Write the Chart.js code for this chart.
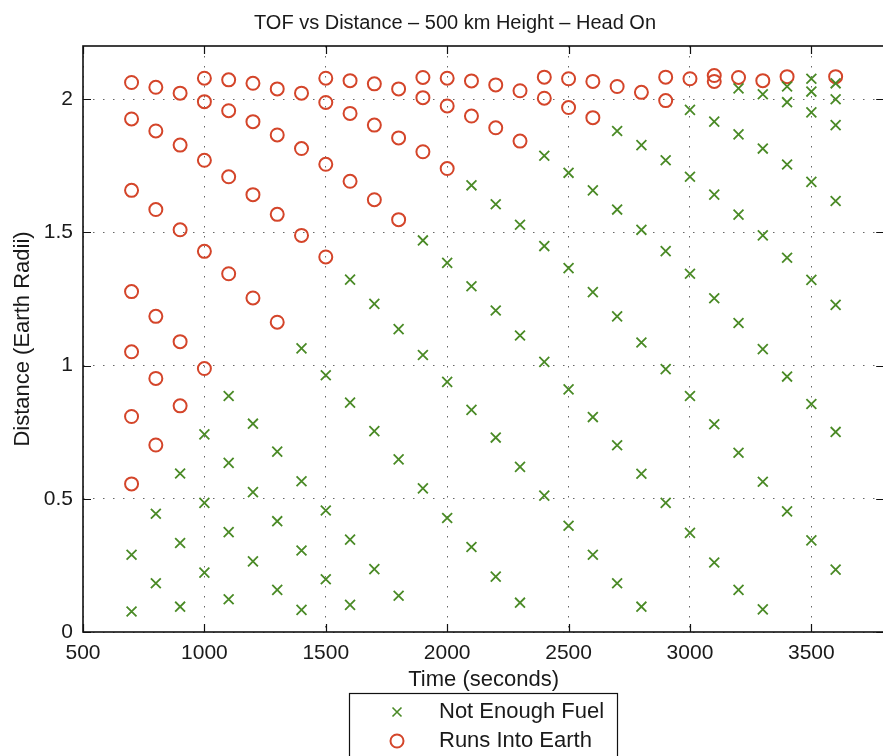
<!DOCTYPE html>
<html>
<head>
<meta charset="utf-8">
<title>TOF vs Distance</title>
<script src="https://cdn.jsdelivr.net/npm/chart.js@4.4.1/dist/chart.umd.min.js"></script>
<style>
  html, body { margin: 0; padding: 0; background: #fff; overflow: hidden; }
  #wrap { width: 893px; height: 756px; }
</style>
</head>
<body>
<div id="wrap"><canvas id="tofChart" width="893" height="756"></canvas></div>
<script>
const FONT = '"Liberation Sans", Arial, Helvetica, sans-serif'
const TEXT = "#1a1a1a"
const FUEL_GREEN = "#4a8a26"
const EARTH_RED = "#d4452a"

const chartTitle = "TOF vs Distance \u2013 500 km Height \u2013 Head On"
const xLabel = "Time (seconds)"
const yLabel = "Distance (Earth Radii)"
const seriesNames = ["Not Enough Fuel", "Runs Into Earth"]

const xTicks = [500, 1000, 1500, 2000, 2500, 3000, 3500]
const yTicks = [0, 0.5, 1, 1.5, 2]
const yTickLabels = ["0", "0.5", "1", "1.5", "2"]

// time of flight (s) for each column of results
const times = [700, 800, 900, 1000, 1100, 1200, 1300, 1400, 1500, 1600,
  1700, 1800, 1900, 2000, 2100, 2200, 2300, 2400, 2500, 2600,
  2700, 2800, 2900, 3000, 3100, 3200, 3300, 3400, 3500, 3600]

// distances (Earth radii) where the intercept ran out of fuel
const notEnoughFuel = [
  [0.290, 0.077],
  [0.444, 0.183],
  [0.595, 0.334, 0.095],
  [0.742, 0.485, 0.223],
  [0.886, 0.635, 0.375, 0.123],
  [0.782, 0.525, 0.265],
  [0.677, 0.416, 0.158],
  [1.065, 0.566, 0.306, 0.083],
  [0.964, 0.456, 0.198],
  [1.323, 0.861, 0.347, 0.102],
  [1.232, 0.754, 0.236],
  [1.137, 0.648, 0.136],
  [1.470, 1.040, 0.539],
  [1.386, 0.939, 0.428],
  [1.677, 1.298, 0.834, 0.319],
  [1.606, 1.207, 0.730, 0.208],
  [1.529, 1.113, 0.620, 0.110],
  [1.788, 1.449, 1.014, 0.512],
  [1.724, 1.366, 0.911, 0.399],
  [1.658, 1.276, 0.807, 0.290],
  [1.881, 1.586, 1.185, 0.701, 0.183],
  [1.828, 1.510, 1.087, 0.594, 0.095],
  [1.771, 1.430, 0.987, 0.485],
  [1.960, 1.709, 1.345, 0.886, 0.372],
  [1.916, 1.642, 1.253, 0.780, 0.261],
  [2.041, 1.868, 1.567, 1.160, 0.673, 0.158],
  [2.019, 1.815, 1.489, 1.062, 0.564, 0.085],
  [2.048, 1.989, 1.755, 1.405, 0.959, 0.453],
  [2.077, 2.029, 1.951, 1.690, 1.322, 0.856, 0.344],
  [2.060, 2.000, 1.903, 1.618, 1.228, 0.751, 0.234],
]

// distances (Earth radii) where the trajectory hit the Earth
const runsIntoEarth = [
  [2.063, 1.926, 1.658, 1.278, 1.052, 0.809, 0.556],
  [2.045, 1.881, 1.586, 1.185, 0.952, 0.702],
  [2.023, 1.828, 1.510, 1.090, 0.849],
  [2.079, 1.991, 1.771, 1.429, 0.989],
  [2.073, 1.957, 1.709, 1.345],
  [2.060, 1.916, 1.642, 1.254],
  [2.039, 1.866, 1.568, 1.163],
  [2.023, 1.815, 1.489],
  [2.079, 1.988, 1.756, 1.408],
  [2.070, 1.947, 1.692],
  [2.058, 1.903, 1.623],
  [2.039, 1.855, 1.548],
  [2.082, 2.006, 1.803],
  [2.079, 1.975, 1.740],
  [2.069, 1.937],
  [2.054, 1.893],
  [2.032, 1.843],
  [2.083, 2.004],
  [2.077, 1.969],
  [2.067, 1.931],
  [2.048],
  [2.026],
  [2.083, 1.995],
  [2.077],
  [2.089, 2.067],
  [2.082],
  [2.070],
  [2.085],
  [],
  [2.085],
]

const toPoints = (cols) => times.flatMap((t, i) => cols[i].map((d) => ({ x: t, y: d })))

// box round the axes with inward tick marks, matlab style
const axesFrame = {
  id: "axesFrame",
  afterDraw(chart) {
    const { ctx, chartArea: a, scales } = chart
    const len = 8
    ctx.save()
    ctx.strokeStyle = "#111"
    ctx.lineWidth = 1.2
    ctx.beginPath()
    xTicks.forEach((v) => {
      const x = Math.round(scales.x.getPixelForValue(v)) + 0.5
      ctx.moveTo(x, a.bottom)
      ctx.lineTo(x, a.bottom - len)
      ctx.moveTo(x, a.top)
      ctx.lineTo(x, a.top + len)
    })
    yTicks.forEach((v) => {
      const y = Math.round(scales.y.getPixelForValue(v)) + 0.5
      ctx.moveTo(a.left, y)
      ctx.lineTo(a.left + len, y)
      ctx.moveTo(a.right, y)
      ctx.lineTo(a.right - len, y)
    })
    ctx.stroke()
    ctx.lineWidth = 1.6
    ctx.strokeRect(a.left, a.top, a.right - a.left, a.bottom - a.top)
    ctx.restore()
  },
}

const titleText = {
  id: "titleText",
  afterDraw(chart) {
    const { ctx } = chart
    ctx.save()
    ctx.fillStyle = TEXT
    ctx.font = "20px " + FONT
    ctx.textAlign = "center"
    ctx.textBaseline = "middle"
    ctx.fillText(chartTitle, 455, 23)
    ctx.restore()
  },
}

// boxed legend under the x label
const boxLegend = {
  id: "boxLegend",
  afterDraw(chart) {
    const { ctx } = chart
    const left = 349
    const top = 693
    const rows = [712, 741]
    ctx.save()
    ctx.fillStyle = "#fff"
    ctx.fillRect(left, top, 268, 80)
    ctx.strokeStyle = "#111"
    ctx.lineWidth = 1.2
    ctx.strokeRect(left + 0.5, top + 0.5, 268, 80)

    const mx = 397
    ctx.lineWidth = 1.6
    ctx.strokeStyle = FUEL_GREEN
    ctx.beginPath()
    ctx.moveTo(mx - 4.5, rows[0] - 4.5)
    ctx.lineTo(mx + 4.5, rows[0] + 4.5)
    ctx.moveTo(mx + 4.5, rows[0] - 4.5)
    ctx.lineTo(mx - 4.5, rows[0] + 4.5)
    ctx.stroke()
    ctx.lineWidth = 2
    ctx.strokeStyle = EARTH_RED
    ctx.beginPath()
    ctx.arc(mx, rows[1], 6.5, 0, Math.PI * 2)
    ctx.stroke()

    ctx.fillStyle = TEXT
    ctx.font = "22px " + FONT
    ctx.textAlign = "left"
    ctx.textBaseline = "middle"
    seriesNames.forEach((name, i) => ctx.fillText(name, 439, rows[i]))
    ctx.restore()
  },
}

const tickFont = { family: FONT, size: 21 }
const labelFont = { family: FONT, size: 22 }

new Chart(document.getElementById("tofChart"), {
  type: "scatter",
  data: {
    datasets: [
      {
        label: seriesNames[0],
        data: toPoints(notEnoughFuel),
        pointStyle: "crossRot",
        pointRadius: 7,
        pointBorderWidth: 1.8,
        pointBorderColor: FUEL_GREEN,
        pointBackgroundColor: "rgba(0,0,0,0)",
      },
      {
        label: seriesNames[1],
        data: toPoints(runsIntoEarth),
        pointStyle: "circle",
        pointRadius: 6.5,
        pointBorderWidth: 2,
        pointBorderColor: EARTH_RED,
        pointBackgroundColor: "rgba(0,0,0,0)",
      },
    ],
  },
  options: {
    responsive: false,
    animation: false,
    devicePixelRatio: 1,
    layout: { padding: { top: 46, right: 2, left: 0, bottom: 0 } },
    plugins: {
      legend: { display: false },
      tooltip: { enabled: false },
    },
    scales: {
      x: {
        type: "linear",
        min: 500,
        max: 3800,
        afterBuildTicks: (s) => {
          s.ticks = xTicks.map((v) => ({ value: v }))
        },
        afterFit: (s) => {
          s.height = 124
        },
        grid: { color: "#666", lineWidth: 1, drawTicks: false },
        border: { display: false, dash: [1.5, 8.5] },
        ticks: {
          font: tickFont,
          color: TEXT,
          padding: 9,
          maxRotation: 0,
          autoSkip: false,
          callback: (v) => String(v),
        },
        title: {
          display: true,
          text: xLabel,
          font: labelFont,
          color: TEXT,
          padding: { top: 0, bottom: 63 },
        },
      },
      y: {
        type: "linear",
        min: 0,
        max: 2.2,
        afterBuildTicks: (s) => {
          s.ticks = yTicks.map((v) => ({ value: v }))
        },
        afterFit: (s) => {
          s.width = 83
        },
        grid: { color: "#666", lineWidth: 1, drawTicks: false },
        border: { display: false, dash: [1.5, 8.5] },
        ticks: {
          font: tickFont,
          color: TEXT,
          padding: 10,
          callback: (v, i) => yTickLabels[i],
        },
        title: {
          display: true,
          text: yLabel,
          font: labelFont,
          color: TEXT,
          padding: { top: 10, bottom: 0 },
        },
      },
    },
  },
  plugins: [axesFrame, titleText, boxLegend],
})
</script>
</body>
</html>
